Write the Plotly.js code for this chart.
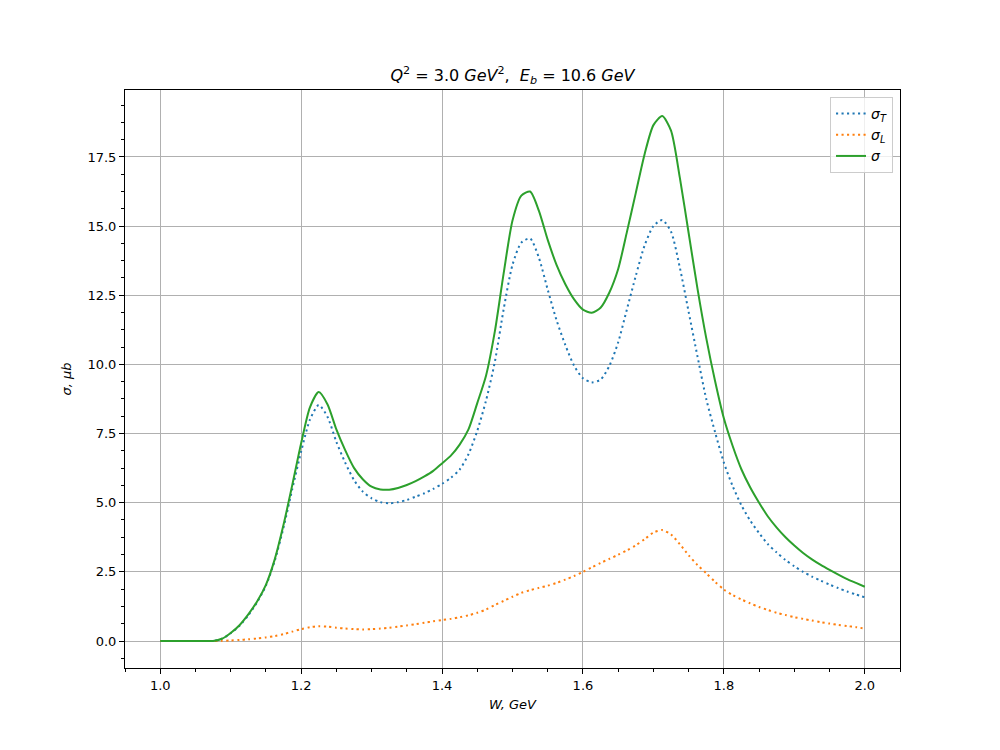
<!DOCTYPE html>
<html>
<head>
<meta charset="utf-8">
<script src="https://cdn.plot.ly/plotly-3.0.1.min.js"></script>
<style>body{margin:0;padding:0;background:#fff;}#chart{width:1000px;height:750px;}</style>
</head>
<body>
<div id="chart"></div>
<script>
// W values (GeV)
const W = [1.0, 1.0125, 1.025, 1.0375, 1.05, 1.0625, 1.075, 1.0875, 1.1, 1.1125,
  1.125, 1.1375, 1.15, 1.1625, 1.175, 1.1875, 1.2, 1.2125, 1.225, 1.2375,
  1.25, 1.2625, 1.275, 1.2875, 1.3, 1.3125, 1.325, 1.3375, 1.35, 1.3625,
  1.375, 1.3875, 1.4, 1.4125, 1.425, 1.4375, 1.45, 1.4625, 1.475, 1.4875,
  1.5, 1.5125, 1.525, 1.5375, 1.55, 1.5625, 1.575, 1.5875, 1.6, 1.6125,
  1.625, 1.6375, 1.65, 1.6625, 1.675, 1.6875, 1.7, 1.7125, 1.725, 1.7375,
  1.75, 1.7625, 1.775, 1.7875, 1.8, 1.8125, 1.825, 1.8375, 1.85, 1.8625,
  1.875, 1.8875, 1.9, 1.9125, 1.925, 1.9375, 1.95, 1.9625, 1.975, 1.9875, 2.0];
// transverse cross section sigma_T (μb)
const sigmaT = [0, 0, 0, 0, 0, 0, 0, 0.08, 0.28, 0.55,
  0.93, 1.4, 2.0, 2.9, 4.1, 5.5, 6.85, 8.0, 8.53, 8.1,
  7.2, 6.45, 5.82, 5.4, 5.16, 5.02, 4.98, 5.02, 5.1, 5.22,
  5.34, 5.5, 5.68, 5.9, 6.2, 6.75, 7.6, 8.7, 10.1, 12.0,
  13.6, 14.4, 14.55, 13.85, 12.7, 11.6, 10.7, 9.95, 9.5, 9.35,
  9.45, 9.95, 10.8, 12.0, 13.2, 14.3, 15.0, 15.22, 14.8, 13.5,
  11.9, 10.3, 8.75, 7.55, 6.45, 5.6, 4.9, 4.35, 3.9, 3.5,
  3.2, 2.93, 2.7, 2.5, 2.33, 2.18, 2.04, 1.91, 1.79, 1.68, 1.58];
// longitudinal cross section sigma_L (μb)
const sigmaL = [0, 0, 0, 0, 0, 0, 0, 0.005, 0.02, 0.04,
  0.06, 0.09, 0.13, 0.18, 0.25, 0.34, 0.43, 0.5, 0.53, 0.52,
  0.48, 0.45, 0.43, 0.42, 0.43, 0.45, 0.48, 0.52, 0.56, 0.61,
  0.66, 0.71, 0.76, 0.8, 0.86, 0.93, 1.02, 1.14, 1.3, 1.45,
  1.6, 1.74, 1.84, 1.92, 2.0, 2.1, 2.22, 2.35, 2.5, 2.66,
  2.82, 2.97, 3.12, 3.28, 3.46, 3.68, 3.92, 4.01, 3.85, 3.5,
  3.1, 2.75, 2.45, 2.14, 1.86, 1.66, 1.5, 1.36, 1.23, 1.12,
  1.02, 0.94, 0.86, 0.8, 0.74, 0.68, 0.63, 0.58, 0.54, 0.5, 0.45];
// total cross section sigma (μb)
const sigma = [0, 0, 0, 0, 0, 0, 0, 0.08, 0.29, 0.57,
  0.96, 1.43, 2.03, 2.95, 4.2, 5.65, 7.15, 8.45, 9.0, 8.55,
  7.65, 6.9, 6.26, 5.85, 5.58, 5.48, 5.47, 5.53, 5.64, 5.78,
  5.95, 6.15, 6.42, 6.7, 7.1, 7.65, 8.6, 9.6, 11.2, 13.3,
  15.2, 16.1, 16.25, 15.55, 14.5, 13.6, 12.9, 12.35, 11.98, 11.87,
  12.05, 12.6, 13.45, 14.8, 16.2, 17.6, 18.65, 18.98, 18.45, 16.75,
  14.75, 12.75, 10.95, 9.4, 8.05, 7.05, 6.2, 5.55, 5.0, 4.5,
  4.1, 3.75, 3.45, 3.18, 2.95, 2.75, 2.57, 2.4, 2.24, 2.1, 1.96];

const FONT = 'DejaVu Sans, sans-serif';
const DOTS = '2.1px,3.4px';
const traces = [
  {x: W, y: sigmaT, mode: 'lines', name: '<i>σ</i><sub><i>T</i></sub>',
   line: {color: '#1f77b4', width: 2, dash: DOTS, shape: 'spline', smoothing: 0.7}},
  {x: W, y: sigmaL, mode: 'lines', name: '<i>σ</i><sub><i>L</i></sub>',
   line: {color: '#ff7f0e', width: 2, dash: DOTS, shape: 'spline', smoothing: 0.7}},
  {x: W, y: sigma, mode: 'lines', name: '<i>σ</i>',
   line: {color: '#2ca02c', width: 2, shape: 'spline', smoothing: 0.7}}
];

const axisCommon = {
  showline: true, linecolor: '#000', linewidth: 1, mirror: true,
  ticks: 'outside', ticklen: 5, tickwidth: 1, tickcolor: '#000',
  showgrid: true, gridcolor: '#b0b0b0', gridwidth: 1,
  zeroline: false, tickfont: {family: FONT, size: 13, color: '#000'},
  tickformat: '.1f'
};

const layout = {
  width: 1000, height: 750,
  paper_bgcolor: '#fff', plot_bgcolor: '#fff',
  margin: {l: 125, r: 100, t: 90, b: 82},
  title: {text: '<i>Q</i><sup>2</sup> = 3.0 <i>GeV</i><sup>2</sup>,  <i>E</i><sub><i>b</i></sub> = 10.6 <i>GeV</i>',
          font: {family: FONT, size: 16, color: '#000'}, x: 0.5125, xanchor: 'center', y: 0.9, yanchor: 'middle'},
  xaxis: Object.assign({}, axisCommon, {
    range: [0.95, 2.05], tick0: 1.0, dtick: 0.2,
    minor: {dtick: 0.05, ticks: 'outside', ticklen: 3, tickcolor: '#000', showgrid: false},
    title: {text: '<i>W, GeV</i>', font: {family: FONT, size: 13, color: '#000'}, standoff: 8}
  }),
  yaxis: Object.assign({}, axisCommon, {
    range: [-0.976, 19.92], tick0: 0, dtick: 2.5,
    minor: {dtick: 0.625, ticks: 'outside', ticklen: 3, tickcolor: '#000', showgrid: false},
    title: {text: '<i>σ, μb</i>', font: {family: FONT, size: 13, color: '#000'}, standoff: 12}
  }),
  showlegend: true,
  legend: {x: 0.991, xanchor: 'right', y: 0.988, yanchor: 'top',
           bgcolor: 'rgba(255,255,255,0.8)', bordercolor: '#cccccc', borderwidth: 1,
           font: {family: FONT, size: 14, color: '#000'}, tracegroupgap: 0}
};

Plotly.newPlot('chart', traces, layout, {displayModeBar: false, staticPlot: true});
</script>
</body>
</html>
